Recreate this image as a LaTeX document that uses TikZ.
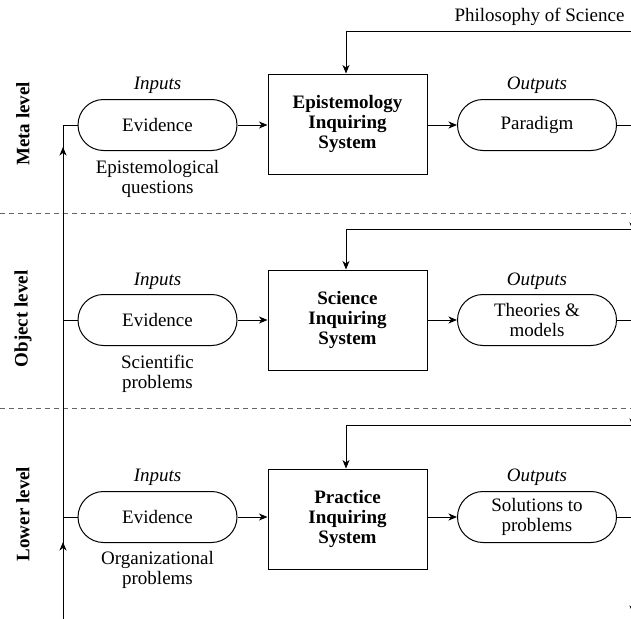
\documentclass[tikz,border=0pt]{standalone}
\usepackage{fontspec}
\setmainfont{Liberation Serif}
\usetikzlibrary{shapes.misc,arrows.meta}
\tikzset{
  every node/.style={font=\fontsize{19}{20}\selectfont},
  pill/.style={draw, rounded rectangle, minimum width=159pt, minimum height=51pt, inner sep=0pt, align=center, line width=1pt},
  sysbox/.style={draw, rectangle, minimum width=159pt, minimum height=100pt, inner sep=0pt, align=center, font=\fontsize{19}{20}\selectfont\bfseries, line width=1pt},
  lbl/.style={font=\fontsize{19}{20}\selectfont\itshape},
  sub/.style={align=center},
  lvl/.style={rotate=90, font=\fontsize{19}{20}\selectfont\bfseries},
  conn/.style={line width=1pt},
  arr/.style={conn, -{Stealth[length=8.5pt,width=7pt,inset=2.5pt]}},
  sep/.style={dashed, dash pattern=on 5pt off 4pt, draw=black!60, line width=1pt}
}
\begin{document}
\begin{tikzpicture}[x=1pt,y=-1pt]
\clip (0,0) rectangle (631,618);
\useasboundingbox (0,0) rectangle (631,618);

% separators
\draw[sep] (0,213) -- (631,213);
\draw[sep] (0,408) -- (631,408);

% level labels
\node[lvl] (lv1) at (23,124) {Meta level};
\node[lvl] (lv2) at (23,319) {Object level};
\node[lvl] (lv3) at (23,514) {Lower level};

% top text
\node (phil) at (539.5,17) {Philosophy of Science};

% meta level
\node[pill] (in1) at (157.5,125) {Evidence};
\node[sysbox] (sys1) at (347.5,124) {Epistemology\\Inquiring\\System};
\node[pill] (out1) at (537,125) {Paradigm};
\node[lbl] (il1) at (157.5,85) {Inputs};
\node[lbl] (ol1) at (537,85) {Outputs};
\node[sub] (q1) at (157.5,179) {Epistemological\\questions};

% object level
\node[pill] (in2) at (157.5,320) {Evidence};
\node[sysbox] (sys2) at (347.5,320) {Science\\Inquiring\\System};
\node[pill] (out2) at (537,320) {Theories \&\\models};
\node[lbl] (il2) at (157.5,281) {Inputs};
\node[lbl] (ol2) at (537,281) {Outputs};
\node[sub] (q2) at (157.5,374) {Scientific\\problems};

% lower level
\node[pill] (in3) at (157.5,517) {Evidence};
\node[sysbox] (sys3) at (347.5,519) {Practice\\Inquiring\\System};
\node[pill] (out3) at (537,517) {Solutions to\\problems};
\node[lbl] (il3) at (157.5,477) {Inputs};
\node[lbl] (ol3) at (537,477) {Outputs};
\node[sub] (q3) at (157.5,570) {Organizational\\problems};

% horizontal flows
\foreach \i in {1,2,3} {
  \draw[arr] (in\i.east) -- (sys\i.west |- in\i.east);
  \draw[arr] (sys\i.east |- out\i.west) -- (out\i.west);
}

% feedback lines at top of each level
\coordinate (t1) at (346,32);
\coordinate (t2) at (346,229);
\coordinate (t3) at (346,425);
\coordinate (r1) at (660,32);
\draw[conn] (r1) -- (t1);
\draw[arr] (t1) -- (t1 |- sys1.north);
\coordinate (r2) at (660,229);
\draw[conn] (r2) -- (t2);
\draw[arr] (t2) -- (t2 |- sys2.north);
\coordinate (r3) at (660,425);
\draw[conn] (r3) -- (t3);
\draw[arr] (t3) -- (t3 |- sys3.north);

% outputs leaving to the right (cropped)
\coordinate (e1) at (633,125);
\coordinate (e2) at (633,320);
\coordinate (e3) at (633,517);
\coordinate (d1) at (633,231);
\coordinate (d2) at (633,427);
\coordinate (d3) at (633,614);
\draw[conn] (out1.east) -- (e1);
\draw[arr] (e1) -- (d1);
\draw[conn] (out2.east) -- (e2);
\draw[arr] (e2) -- (d2);
\draw[conn] (out3.east) -- (e3);
\draw[arr] (e3) -- (d3);

% left input line
\coordinate (lb) at (63,620);
\coordinate (l1) at (63,125);
\coordinate (l2) at (63,320);
\coordinate (l3) at (63,517);
\coordinate (a1) at (63,147);
\coordinate (a3) at (63,542);
\draw[conn] (lb) -- (l1) -- (in1.west);
\draw[conn] (l2) -- (in2.west);
\draw[conn] (l3) -- (in3.west);
\draw[arr] (63,580) -- (a3);
\draw[arr] (63,190) -- (a1);
\end{tikzpicture}
\end{document}
